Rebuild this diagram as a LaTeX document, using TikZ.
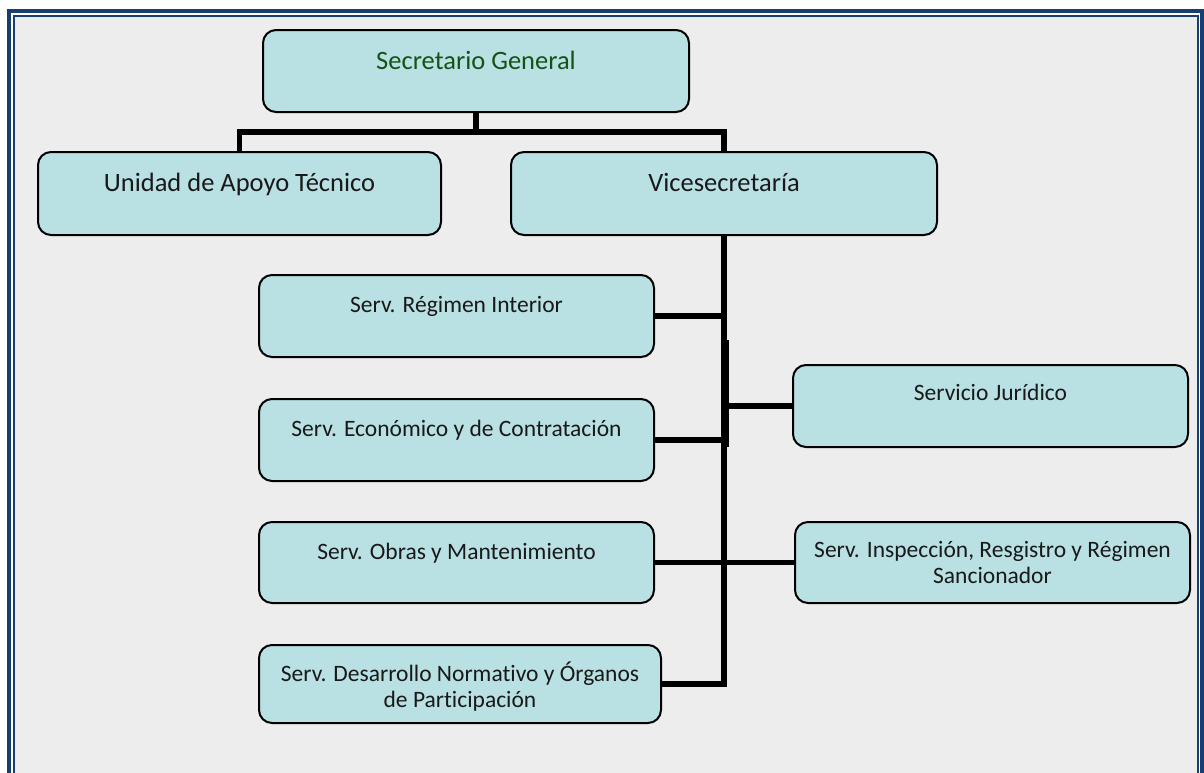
\documentclass[tikz,border=0pt]{standalone}
\usepackage{fontspec}
\setmainfont{Carlito}[Ligatures=NoCommon]
\definecolor{boxfill}{RGB}{185,224,227}
\definecolor{framebl}{RGB}{24,62,112}
\definecolor{bgpat}{RGB}{237,237,237}
\definecolor{sggreen}{RGB}{22,82,22}
\definecolor{txt}{RGB}{25,25,25}
\pgfdeclarelayer{framelayer}
\pgfdeclarelayer{connlayer}
\pgfsetlayers{framelayer,connlayer,main}
\tikzset{
  orgbox/.style={draw=black, line width=2pt, fill=boxfill, rounded corners=13pt, inner sep=0pt},
  conn/.style={draw=black, line width=5.5pt, line join=miter},
  bigtxt/.style={font=\fontsize{26.5}{30}\selectfont, text=txt, anchor=base, inner sep=0pt},
  smalltxt/.style={font=\fontsize{23.5}{26}\selectfont, text=txt, anchor=base, inner sep=0pt, align=center},
}
\begin{document}
\begin{tikzpicture}[x=1pt,y=-1pt]
\useasboundingbox (0,0) rectangle (1204,772);
\begin{pgfonlayer}{framelayer}
\fill[white] (0,0) rectangle (1204,772);
\fill[bgpat] (14,16) rectangle (1198,790);
\draw[framebl, line width=1.2pt] (14,790) -- (14,16) -- (1198,16) -- (1198,790);
\draw[framebl, line width=4pt] (9,790) -- (9,11) -- (1202,11) -- (1202,790);
\end{pgfonlayer}

% boxes
\node[orgbox, minimum width=426pt, minimum height=82pt] (sg) at (476,71) {};
\node[orgbox, minimum width=403pt, minimum height=83pt] (uat) at (239.5,193.5) {};
\node[orgbox, minimum width=426pt, minimum height=83pt] (vice) at (724,193.5) {};
\node[orgbox, minimum width=395pt, minimum height=82pt] (ri) at (456.5,316) {};
\node[orgbox, minimum width=395pt, minimum height=82pt] (eco) at (456.5,440) {};
\node[orgbox, minimum width=395pt, minimum height=81pt] (obr) at (456.5,562.5) {};
\node[orgbox, minimum width=402pt, minimum height=78pt] (des) at (460,684) {};
\node[orgbox, minimum width=395pt, minimum height=82pt] (jur) at (990.5,406) {};
\node[orgbox, minimum width=395pt, minimum height=81pt] (ins) at (992.5,562.5) {};

% texts
\node[bigtxt, text=sggreen] (sgt) at (476,69) {Secretario General};
\node[bigtxt] (uatt) at (239.5,191) {Unidad de Apoyo Técnico};
\node[bigtxt] (vicet) at (724,191) {Vicesecretaría};
\node[smalltxt] (rit) at (456.5,312) {Serv. Régimen Interior};
\node[smalltxt] (ecot) at (456.5,436) {Serv. Económico y de Contratación};
\node[smalltxt] (obrt) at (456.5,559) {Serv. Obras y Mantenimiento};
\node[smalltxt] (dest) at (460,707) {Serv. Desarrollo Normativo y Órganos\\de Participación};
\node[smalltxt] (jurt) at (990.5,400) {Servicio Jurídico};
\node[smalltxt] (inst) at (992.5,583) {Serv. Inspección, Resgistro y Régimen\\Sancionador};

% connectors (beneath the boxes)
\coordinate (top) at (476,132);
\coordinate (jtop) at (726.5,340);
\coordinate (jbot) at (726.5,447);
\coordinate (jmid) at (726.5,406);
\coordinate (dcorner) at (724,684);
\begin{pgfonlayer}{connlayer}
\draw[conn] (sg.south) -- (top);
\draw[conn] (uat.north) |- (top) -| (vice.north);
\draw[conn] (vice.south) -- (dcorner) -- (des.east);
\draw[conn] (ri.east) -- (ri.east -| vice.south);
\draw[conn] (eco.east) -- (eco.east -| vice.south);
\draw[conn] (obr.east) -- (ins.west);
\draw[conn] (jtop) -- (jbot);
\draw[conn] (jmid) -- (jur.west);
\end{pgfonlayer}
\end{tikzpicture}
\end{document}
